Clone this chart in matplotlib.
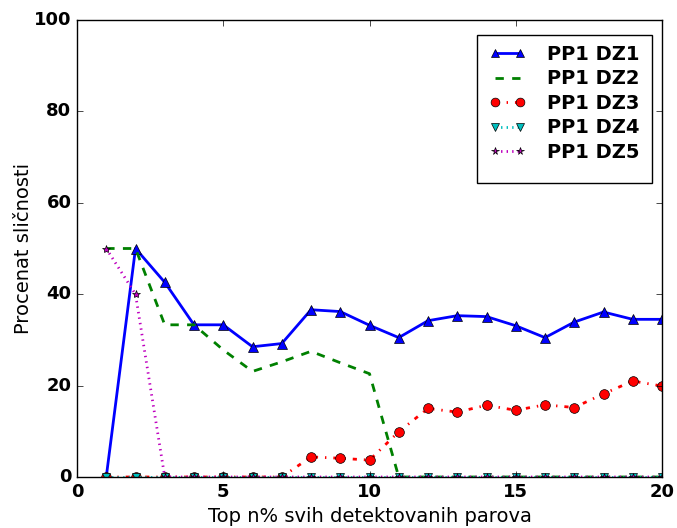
import matplotlib
matplotlib.use('Agg')
import matplotlib.pyplot as plt
from matplotlib.patches import Rectangle

plt.style.use('classic')

x = list(range(1, 21))
dz1 = [0, 50, 42.6, 33.3, 33.3, 28.5, 29.2, 36.6, 36.2, 33.2, 30.5, 34.2, 35.3, 35.1, 33.1, 30.5, 33.9, 36.1, 34.5, 34.5]
dz2 = [50, 50, 33.3, 33.3, 27.8, 23.1, 25.2, 27.5, 25.0, 22.6, 0, 0, 0, 0, 0, 0, 0, 0, 0, 0]
dz3 = [0, 0, 0, 0, 0, 0, 0, 4.4, 4.1, 3.7, 9.9, 15.0, 14.2, 15.7, 14.6, 15.8, 15.2, 18.2, 21.0, 19.9]
dz4 = [0] * 20
dz5 = [50, 40, 0, 0, 0, 0, 0, 0, 0, 0, 0, 0, 0, 0, 0, 0, 0, 0, 0, 0]
labels = ['PP1 DZ1', 'PP1 DZ2', 'PP1 DZ3', 'PP1 DZ4', 'PP1 DZ5']

W, H = 677, 528
fig = plt.figure(figsize=(W / 100, H / 100), dpi=100, facecolor='white')
ax = fig.add_axes([77 / W, 1 - 477 / H, 585 / W, 457 / H])

ax.plot(x, dz1, 'b-^', lw=2, ms=7, label=labels[0])
ax.plot(x, dz2, 'g--', lw=2, label=labels[1])
ax.plot(x, dz3, 'r-.o', lw=2, ms=7, label=labels[2])
ax.plot(x, dz4, 'c:v', lw=2, ms=6, label=labels[3])
ax.plot(x, dz5, 'm:*', lw=2, ms=6, label=labels[4])

ax.set_xlim(0, 20)
ax.set_ylim(0, 100)
ax.set_xticks([0, 5, 10, 15, 20])
ax.set_yticks([0, 20, 40, 60, 80, 100])
for t in ax.get_xticklabels() + ax.get_yticklabels():
    t.set_fontweight('bold')
    t.set_fontsize(13)
ax.set_xlabel('Top n% svih detektovanih parova', fontsize=14)
ax.set_ylabel('Procenat sličnosti', fontsize=14, labelpad=1)

# legend frame drawn separately (extra space at bottom like the original)
frame = Rectangle((477 / W, 1 - 183 / H), 175 / W, 148 / H, transform=fig.transFigure,
                  facecolor='white', edgecolor='black', lw=1, zorder=4.9, clip_on=False)
ax.add_patch(frame)
leg = ax.legend(loc='upper left', bbox_to_anchor=(489 / W, 1 - 45 / H), bbox_transform=fig.transFigure,
                prop={'weight': 'bold', 'size': 14}, numpoints=2, frameon=False,
                borderpad=0, borderaxespad=0, labelspacing=0.28, markerscale=0.9,
                handlelength=1.9, handletextpad=1.1)
leg.set_zorder(5)

fig.savefig('out.png', dpi=100, facecolor='white')
